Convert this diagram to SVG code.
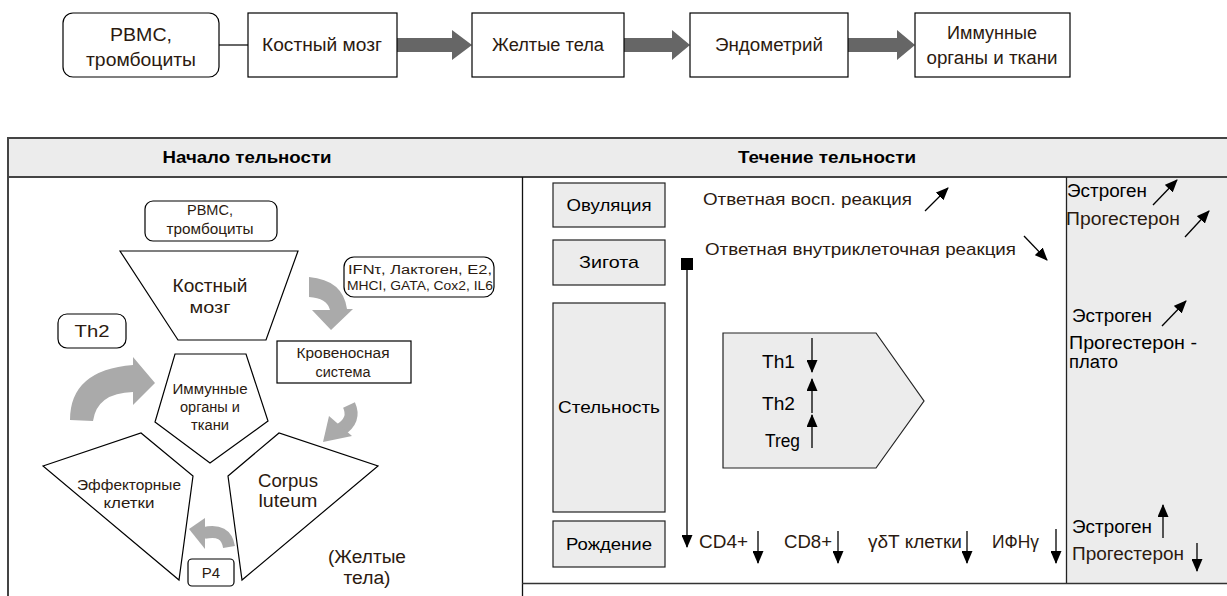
<svg xmlns="http://www.w3.org/2000/svg" width="1227" height="596" viewBox="0 0 1227 596">
<defs>
<style>
.box{fill:#fff;stroke:#000;stroke-width:1.2}
.gbox{fill:#ececec;stroke:#222;stroke-width:1.2}
.t{font-family:"Liberation Sans",Arial,sans-serif;fill:#2b1a10}
.k{fill:#000}
.c{text-anchor:middle}
.b{font-weight:bold;fill:#000}
.ga{fill:#aaaaaa}
.gs{fill:none;stroke:#aaaaaa}
.ln{stroke:#000;stroke-width:1.3;fill:none}
.tb{stroke:#444;stroke-width:2;fill:none}
.big{fill:#666}
</style>
<marker id="ah" markerUnits="userSpaceOnUse" markerWidth="13" markerHeight="11" refX="12" refY="5.5" orient="auto">
<path d="M0,0 L13,5.5 L0,11 z" fill="#000"/>
</marker>
</defs>

<!-- Top chain -->
<g id="top-connectors">
<line x1="219" y1="45" x2="248" y2="45" stroke="#000" stroke-width="1.2"/>
<polygon class="big" points="397,38 452,38 452,30 472,45 452,60 452,52 397,52"/>
<polygon class="big" points="624,38 672,38 672,30 690,45 672,60 672,52 624,52"/>
<polygon class="big" points="848,38 897,38 897,30 915,45 897,60 897,52 848,52"/>
</g>
<g id="top-pbmc">
<rect class="box" x="63" y="13" width="156" height="64" rx="10"/>
<text class="t c" x="141" y="41" font-size="18" textLength="62" lengthAdjust="spacingAndGlyphs">PBMC,</text>
<text class="t c" x="141" y="66" font-size="18" textLength="110" lengthAdjust="spacingAndGlyphs">тромбоциты</text>
</g>
<g id="top-bone">
<rect class="box" x="248" y="13" width="149" height="64"/>
<text class="t c" x="322" y="51" font-size="18" textLength="120" lengthAdjust="spacingAndGlyphs">Костный мозг</text>
</g>
<g id="top-cl">
<rect class="box" x="472" y="13" width="152" height="64"/>
<text class="t c" x="548" y="51" font-size="18" textLength="112" lengthAdjust="spacingAndGlyphs">Желтые тела</text>
</g>
<g id="top-endo">
<rect class="box" x="690" y="13" width="158" height="64"/>
<text class="t c" x="769" y="51" font-size="18" textLength="108" lengthAdjust="spacingAndGlyphs">Эндометрий</text>
</g>
<g id="top-immune">
<rect class="box" x="915" y="13" width="155" height="64"/>
<text class="t c" x="992" y="39" font-size="18" textLength="90" lengthAdjust="spacingAndGlyphs">Иммунные</text>
<text class="t c" x="992" y="64" font-size="18" textLength="131" lengthAdjust="spacingAndGlyphs">органы и ткани</text>
</g>

<!-- Table -->
<g id="table">
<rect x="8" y="138" width="1221" height="39" fill="#ececec"/>
<rect x="1066" y="177" width="163" height="406" fill="#ececec"/>
<line class="tb" x1="8" y1="138" x2="1227" y2="138"/>
<line class="tb" x1="8" y1="177" x2="1227" y2="177"/>
<line class="tb" x1="8" y1="137" x2="8" y2="596"/>
<line x1="522.5" y1="177" x2="522.5" y2="596" stroke="#111" stroke-width="1.3"/>
<line x1="1066.5" y1="177" x2="1066.5" y2="583" stroke="#222" stroke-width="1.3"/>
<line x1="522" y1="583.5" x2="1227" y2="583.5" stroke="#333" stroke-width="1.5"/>
<text class="t b c" x="247" y="163" font-size="17" textLength="169" lengthAdjust="spacingAndGlyphs">Начало тельности</text>
<text class="t b c" x="827" y="163" font-size="17" textLength="178" lengthAdjust="spacingAndGlyphs">Течение тельности</text>
</g>

<!-- Left panel -->
<g id="gray-arrows">
<path class="ga" d="M309,277 Q343,280 347,309 L353,309 L331,330 L312,310 L330,310 Q327,298 309,297 Z"/>
<path class="ga" d="M70,420 Q70,370 133,365 L133,357 L155,383 L133,405 L133,392 Q97,393 93,421 Z"/>
<path class="gs" d="M349,405 Q356,420 340,430" stroke-width="13"/>
<polygon class="ga" points="329,416 352,436 323,442"/>
<path class="gs" d="M229,547 Q226,528 204,533" stroke-width="12"/>
<polygon class="ga" points="205,518 205,549 189,529"/>
</g>
<g id="l-pbmc">
<rect class="box" x="145" y="201" width="132" height="40" rx="8"/>
<text class="t c" x="210" y="215" font-size="14" textLength="46" lengthAdjust="spacingAndGlyphs">PBMC,</text>
<text class="t c" x="210" y="234" font-size="14" textLength="87" lengthAdjust="spacingAndGlyphs">тромбоциты</text>
</g>
<g id="l-bone">
<polygon class="box" points="120,251 298,251 266,340 178,340"/>
<text class="t c" x="210" y="292" font-size="19" textLength="75" lengthAdjust="spacingAndGlyphs">Костный</text>
<text class="t c" x="210" y="313" font-size="17" textLength="41" lengthAdjust="spacingAndGlyphs">мозг</text>
</g>
<g id="l-ifn">
<rect class="box" x="344" y="257" width="150" height="40" rx="10"/>
<text class="t c" x="420" y="274" font-size="12" textLength="144" lengthAdjust="spacingAndGlyphs">IFNτ, Лактоген, E2,</text>
<text class="t c" x="420" y="290" font-size="12" textLength="146" lengthAdjust="spacingAndGlyphs">MHCI, GATA, Cox2, IL6</text>
</g>
<g id="l-blood">
<rect class="box" x="277" y="341" width="134" height="42"/>
<text class="t c" x="343" y="358" font-size="14" textLength="93" lengthAdjust="spacingAndGlyphs">Кровеносная</text>
<text class="t c" x="343" y="377" font-size="14" textLength="55" lengthAdjust="spacingAndGlyphs">система</text>
</g>
<g id="l-th2">
<rect class="box" x="58" y="314" width="68" height="34" rx="9"/>
<text class="t c" x="92" y="337" font-size="17" textLength="35" lengthAdjust="spacingAndGlyphs">Th2</text>
</g>
<g id="l-immune">
<polygon class="box" points="175,354 246,354 268,421 210,463 155,422"/>
<text class="t c" x="210" y="394" font-size="14" textLength="75" lengthAdjust="spacingAndGlyphs">Иммунные</text>
<text class="t c" x="210" y="412" font-size="14" textLength="60" lengthAdjust="spacingAndGlyphs">органы и</text>
<text class="t c" x="210" y="430" font-size="14" textLength="38" lengthAdjust="spacingAndGlyphs">ткани</text>
</g>
<g id="l-effector">
<polygon class="box" points="43,466 141,433 193,476 179,580"/>
<text class="t c" x="129" y="490" font-size="14" textLength="104" lengthAdjust="spacingAndGlyphs">Эффекторные</text>
<text class="t c" x="129" y="508" font-size="14" textLength="51" lengthAdjust="spacingAndGlyphs">клетки</text>
</g>
<g id="l-corpus">
<polygon class="box" points="228,476 279,433 378,466 242,580"/>
<text class="t c" x="288" y="487" font-size="19" textLength="60" lengthAdjust="spacingAndGlyphs">Corpus</text>
<text class="t c" x="288" y="507" font-size="19" textLength="59" lengthAdjust="spacingAndGlyphs">luteum</text>
</g>
<g id="l-p4">
<rect class="box" x="188" y="559" width="46" height="27" rx="4"/>
<text class="t c" x="211" y="578" font-size="15">P4</text>
</g>
<g id="l-cl-label">
<text class="t c" x="367" y="563" font-size="18" textLength="78" lengthAdjust="spacingAndGlyphs">(Желтые</text>
<text class="t c" x="367" y="584" font-size="18" textLength="47" lengthAdjust="spacingAndGlyphs">тела)</text>
</g>

<!-- Right panel -->
<g id="r-ovul">
<rect class="gbox" x="553" y="183" width="112" height="44"/>
<text class="t k c" x="609" y="211" font-size="17" textLength="85" lengthAdjust="spacingAndGlyphs">Овуляция</text>
</g>
<g id="r-zygote">
<rect class="gbox" x="553" y="240" width="112" height="45"/>
<text class="t k c" x="609" y="268" font-size="17" textLength="60" lengthAdjust="spacingAndGlyphs">Зигота</text>
</g>
<g id="r-preg">
<rect class="gbox" x="553" y="303" width="112" height="209"/>
<text class="t k c" x="609" y="413" font-size="17" textLength="102" lengthAdjust="spacingAndGlyphs">Стельность</text>
</g>
<g id="r-birth">
<rect class="gbox" x="553" y="521" width="112" height="46"/>
<text class="t k c" x="609" y="550" font-size="17" textLength="86" lengthAdjust="spacingAndGlyphs">Рождение</text>
</g>
<g id="r-th">
<polygon points="723,333 876,333 924,401 876,468 723,468" fill="#ececec" stroke="#222" stroke-width="1.2"/>
<text class="t k" x="762" y="368" font-size="18" textLength="33" lengthAdjust="spacingAndGlyphs">Th1</text>
<text class="t k" x="762" y="410" font-size="18" textLength="33" lengthAdjust="spacingAndGlyphs">Th2</text>
<text class="t k" x="765" y="447" font-size="18" textLength="35" lengthAdjust="spacingAndGlyphs">Treg</text>
</g>
<g id="r-texts">
<text class="t" x="703" y="205" font-size="17" textLength="209" lengthAdjust="spacingAndGlyphs">Ответная восп. реакция</text>
<text class="t" x="705" y="255" font-size="17" textLength="311" lengthAdjust="spacingAndGlyphs">Ответная внутриклеточная реакция</text>
<text class="t" x="699" y="548" font-size="18" textLength="49" lengthAdjust="spacingAndGlyphs">CD4+</text>
<text class="t" x="784" y="548" font-size="18" textLength="48" lengthAdjust="spacingAndGlyphs">CD8+</text>
<text class="t" x="868" y="548" font-size="18" textLength="94" lengthAdjust="spacingAndGlyphs">γδT клетки</text>
<text class="t" x="992" y="548" font-size="18" textLength="47" lengthAdjust="spacingAndGlyphs">ИФНγ</text>
</g>
<g id="r-hormones">
<text class="t k" x="1067" y="197" font-size="18" textLength="80" lengthAdjust="spacingAndGlyphs">Эстроген</text>
<text class="t" x="1066" y="225" font-size="18" textLength="114" lengthAdjust="spacingAndGlyphs">Прогестерон</text>
<text class="t k" x="1072" y="322" font-size="18" textLength="80" lengthAdjust="spacingAndGlyphs">Эстроген</text>
<text class="t k" x="1069" y="349" font-size="18" textLength="128" lengthAdjust="spacingAndGlyphs">Прогестерон -</text>
<text class="t k" x="1069" y="368" font-size="18" textLength="49" lengthAdjust="spacingAndGlyphs">плато</text>
<text class="t k" x="1072" y="533" font-size="18" textLength="80" lengthAdjust="spacingAndGlyphs">Эстроген</text>
<text class="t" x="1072" y="560" font-size="18" textLength="112" lengthAdjust="spacingAndGlyphs">Прогестерон</text>
</g>
<g id="connectors">
<rect x="681" y="258" width="12" height="12" fill="#000"/>
<line class="ln" x1="687" y1="270" x2="687" y2="547" marker-end="url(#ah)"/>
<line class="ln" x1="925" y1="211" x2="948" y2="188" marker-end="url(#ah)" stroke-width="1"/>
<line class="ln" x1="1024" y1="236" x2="1047" y2="260" marker-end="url(#ah)" stroke-width="1"/>
<line class="ln" x1="812" y1="338" x2="812" y2="372" marker-end="url(#ah)"/>
<line class="ln" x1="812" y1="413" x2="812" y2="379" marker-end="url(#ah)"/>
<line class="ln" x1="812" y1="448" x2="812" y2="415" marker-end="url(#ah)"/>
<line class="ln" x1="758" y1="531" x2="758" y2="563" marker-end="url(#ah)"/>
<line class="ln" x1="838" y1="531" x2="838" y2="563" marker-end="url(#ah)"/>
<line class="ln" x1="967" y1="531" x2="967" y2="563" marker-end="url(#ah)"/>
<line class="ln" x1="1056" y1="529" x2="1056" y2="563" marker-end="url(#ah)"/>
<line class="ln" x1="1153" y1="205" x2="1177" y2="180" marker-end="url(#ah)" stroke-width="1"/>
<line class="ln" x1="1185" y1="237" x2="1209" y2="211" marker-end="url(#ah)" stroke-width="1"/>
<line class="ln" x1="1162" y1="326" x2="1186" y2="301" marker-end="url(#ah)" stroke-width="1"/>
<line class="ln" x1="1163" y1="538" x2="1163" y2="505" marker-end="url(#ah)"/>
<line class="ln" x1="1197" y1="543" x2="1197" y2="571" marker-end="url(#ah)"/>
</g>
</svg>
